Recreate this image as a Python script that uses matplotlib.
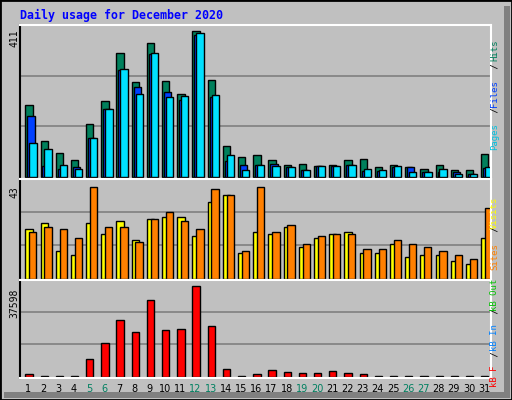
import numpy as np
import matplotlib.pyplot as plt
from matplotlib.patches import Rectangle

days = list(range(1, 32))
weekend = [5, 6, 12, 13, 19, 20, 26, 27]

hits = [202, 101, 68, 48, 149, 214, 350, 266, 377, 269, 232, 411, 274, 87, 57, 60,
        48, 34, 37, 31, 34, 48, 51, 26, 34, 26, 23, 34, 18, 20, 65]
files = [171, 30, 21, 26, 110, 191, 302, 252, 345, 239, 217, 400, 224, 43, 33, 34,
         35, 26, 19, 31, 31, 32, 16, 16, 26, 28, 13, 13, 12, 9, 25]
pages = [96, 79, 32, 23, 110, 191, 305, 233, 350, 224, 227, 405, 230, 60, 18, 32,
         29, 26, 20, 29, 29, 32, 23, 18, 29, 12, 12, 23, 9, 9, 26]
visits = [23, 26, 13, 11, 26, 21, 27, 18, 28, 29, 29, 20, 36, 39, 12, 22,
          21, 24, 15, 19, 21, 22, 12, 12, 16, 10, 11, 11, 8, 7, 19]
sites = [22, 24, 23, 19, 43, 24, 24, 17, 28, 31, 27, 23, 42, 39, 13, 43,
         22, 25, 16, 20, 21, 21, 14, 14, 18, 16, 15, 13, 11, 9, 33]
kbytes = [960, 250, 250, 250, 7135, 13720, 23600, 18660, 31830, 19480, 19890, 37598, 21130,
          3020, 250, 960, 2600, 1780, 1370, 1370, 2200, 1370, 960, 250, 250, 250, 250,
          250, 250, 250, 250]

W, H = 512, 400
BG = '#C0C0C0'
fig = plt.figure(figsize=(W / 100, H / 100), dpi=100)
fig.patch.set_facecolor(BG)


def px(x, y, w, h):
    # pixel box (top-left origin) -> figure fraction
    return [x / W, 1 - (y + h) / H, w / W, h / H]


# frame, shadow
fig.patches.append(Rectangle((0, 0), 1, 1, transform=fig.transFigure, fill=False,
                             edgecolor='black', linewidth=2))
fig.patches.append(Rectangle((504 / W, 2 / H), 6 / W, 392 / H, transform=fig.transFigure,
                             facecolor='#808080', edgecolor='none'))
fig.patches.append(Rectangle((4 / W, 2 / H), 506 / W, 6 / H, transform=fig.transFigure,
                             facecolor='#808080', edgecolor='none'))

fig.text(20 / W, 1 - 15 / H, 'Daily usage for December 2020', color='#0000FF',
         family='DejaVu Sans Mono', fontweight='bold', fontsize=8.4, va='center')

x = np.arange(31)
bw = 0.48
bar_kw = dict(width=bw, align='edge', edgecolor='black', linewidth=1)


def panel(rect, top):
    ax = fig.add_axes(px(*rect))
    ax.set_facecolor(BG)
    ax.set_xlim(0, 31)
    ax.set_ylim(-top * 0.015, top)
    for f in (1 / 3, 2 / 3):
        ax.axhline(top * f, color='#808080', linewidth=1.2, zorder=0)
    ax.set_xticks([])
    ax.set_yticks([])
    for s in ax.spines.values():
        s.set_linewidth(1.5)
    ax.spines['top'].set_color('white')
    ax.spines['right'].set_color('white')
    ax.spines['left'].set_color('black')
    ax.spines['bottom'].set_color('white')
    return ax


ax1 = panel((20, 25, 471, 154), 411 * 154 / 148)
ax1.bar(x + 0.35, hits, color='#00805C', **bar_kw)
ax1.bar(x + 0.48, files, color='#0040FF', **bar_kw)
ax1.bar(x + 0.61, pages, color='#00E0FF', **bar_kw)

ax2 = panel((20, 179, 471, 101), 43 * 101 / 93)
ax2.bar(x + 0.35, visits, color='#FFFF00', **bar_kw)
ax2.bar(x + 0.6, sites, color='#FF8000', **bar_kw)

ax3 = panel((20, 280, 471, 98), 37598 * 98 / 92)
ax3.bar(x + 0.35, kbytes, color='#FF0000', **bar_kw)

mono = dict(family='DejaVu Sans Mono', fontsize=7, rotation=90)
fig.text(14 / W, 1 - 38 / H, '411', ha='center', va='center', **mono)
fig.text(14 / W, 1 - 192 / H, '43', ha='center', va='center', **mono)
fig.text(14 / W, 1 - 303 / H, '37598', ha='center', va='center', **mono)

side_font = dict(family='DejaVu Sans Mono', fontsize=6.5, rotation=90)
ch = 0.602 * 6.5 * 100 / 72


def side(y0, parts):
    y = y0
    for txt, col in parts:
        fig.text(499 / W, 1 - y / H, txt, color=col, ha='center', va='bottom',
                 rotation_mode='anchor', **side_font)
        y -= ch * len(txt)


side(137, [('Pages', '#00C0E0'), (' / ', 'black'), ('Files', '#0040FF'),
           (' / ', 'black'), ('Hits', '#00805C')])
side(376, [('kB F', '#FF0000'), (' / ', 'black'), ('kB In', '#0080FF'), (' / ', 'black'),
           ('kB Out', '#00C000'), (' ', 'black'), ('Sites', '#FF8000'), (' / ', 'black'),
           ('Visits', '#FFFF00')])

for d in days:
    col = '#008060' if d in weekend else 'black'
    fig.text((20 + (d - 0.45) * 471 / 31) / W, 1 - 389 / H, str(d), color=col,
             ha='center', va='center', family='DejaVu Sans', fontsize=7)

fig.savefig('out.png', dpi=100, facecolor=BG)
